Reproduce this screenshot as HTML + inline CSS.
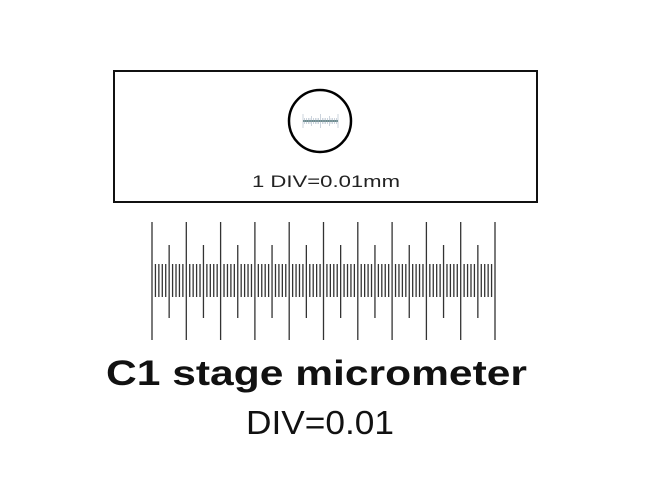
<!DOCTYPE html>
<html><head><meta charset="utf-8"><style>html,body{margin:0;padding:0;background:#fff;}svg{display:block}</style></head>
<body>
<svg width="650" height="500" xmlns="http://www.w3.org/2000/svg">
<rect x="114" y="71" width="423" height="131" fill="none" stroke="#111" stroke-width="2"/>
<circle cx="320" cy="121" r="31" fill="none" stroke="#000" stroke-width="2.5"/>
<g stroke="#6a8a8a" stroke-width="0.6">
<line x1="303" y1="121" x2="338" y2="121" stroke-width="2"/>
</g>
<g stroke="#9ab" stroke-width="0.5" id="mini"></g>
<text x="326" y="187" font-family="Liberation Sans, sans-serif" font-size="17" text-anchor="middle" fill="#222" textLength="148" lengthAdjust="spacingAndGlyphs">1 DIV=0.01mm</text>
<g id="scale" stroke="#333" stroke-width="1.3"></g>
<text x="106" y="385" font-family="Liberation Sans, sans-serif" font-weight="bold" font-size="35" fill="#111" textLength="421" lengthAdjust="spacingAndGlyphs">C1 stage micrometer</text>
<text x="246" y="434" font-family="Liberation Sans, sans-serif" font-size="33" fill="#111" textLength="148" lengthAdjust="spacingAndGlyphs">DIV=0.01</text>
</svg>
<script>
var g=document.getElementById('scale'),s='';
for(var i=0;i<=100;i++){var x=(152+i*3.43).toFixed(2),y1,y2;
if(i%10==0){y1=222;y2=340;}else if(i%5==0){y1=245;y2=318;}else{y1=264;y2=297;}
s+='<line x1="'+x+'" x2="'+x+'" y1="'+y1+'" y2="'+y2+'"/>';}
g.innerHTML=s;
var m=document.getElementById('mini'),t='';
for(var j=0;j<=20;j++){var xx=(303+j*1.75).toFixed(2);var h=(j%10==0)?7:(j%5==0?5:3);
t+='<line x1="'+xx+'" x2="'+xx+'" y1="'+(121-h)+'" y2="'+(121+h)+'"/>';}
m.innerHTML=t;
</script>
</body></html>
